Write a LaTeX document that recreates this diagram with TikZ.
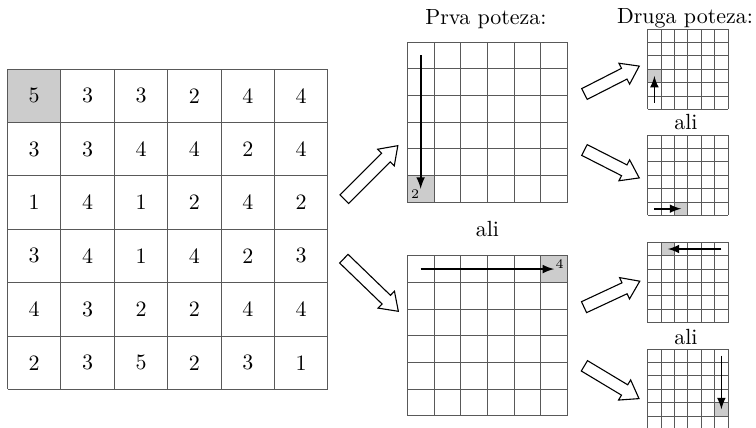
\documentclass[tikz,border=0pt]{standalone}
\usetikzlibrary{shapes.arrows}

\tikzset{
	gridline/.style={black!65, line width=0.45pt},
	taken/.style={fill=black!20},
	move/.style={->, thick},
	bigarrow/.style={draw, single arrow, fill=white, inner xsep=0pt, inner ysep=2.5pt,
		single arrow head extend=2.6pt, single arrow tip angle=70, line width=0.5pt},
	cellmark/.style={font=\fontsize{6}{7}\selectfont, inner sep=1.5pt},
}

\begin{document}
\begin{tikzpicture}[x=0.016cm, y=-0.016cm, >=latex]
		\useasboundingbox (0,0) rectangle (756,428);
		% shaded cells
		\fill[taken] (7.5,69) rectangle (60.9,122.4);
		\fill[taken] (407.3,175.5) rectangle (434,202.2);
		\fill[taken] (540.8,255.7) rectangle (567.5,282.4);
		\fill[taken] (647.7,69.2) rectangle (661.1,82.6);
		\fill[taken] (674.5,202) rectangle (687.9,215.4);
		\fill[taken] (661.1,242.3) rectangle (674.5,255.7);
		\fill[taken] (714.7,402.6) rectangle (728.1,416);
		% the boards
		\foreach \gx/\gy/\c in {7.5/69/53.4, 407.3/42/26.7, 407.3/255.7/26.7, 647.7/29/13.4, 647.7/135/13.4, 647.7/242.3/13.4, 647.7/349/13.4}
			\foreach \i in {0,...,6} {
				\draw[gridline] (\gx+\i*\c,\gy) -- (\gx+\i*\c,\gy+6*\c);
				\draw[gridline] (\gx,\gy+\i*\c) -- (\gx+6*\c,\gy+\i*\c);
			}
		% numbers on the big board
		\foreach \row [count=\r] in {{5,3,3,2,4,4},{3,3,4,4,2,4},{1,4,1,2,4,2},{3,4,1,4,2,3},{4,3,2,2,4,4},{2,3,5,2,3,1}}
			\foreach \v [count=\c] in \row
				\node (n\r\c) at (7.5+\c*53.4-26.7, 69+\r*53.4-26.7) {\v};
		% labels
		\node[anchor=base] (prva) at (486,24) {Prva poteza:};
		\node[anchor=base] (druga) at (685,23.5) {Druga poteza:};
		\node (ali1) at (487.5,229) {ali};
		\node (ali2) at (686,122) {ali};
		\node (ali3) at (686,336.5) {ali};
		\node[cellmark, anchor=south west] (d2) at (407.3,202.2) {2};
		\node[cellmark, anchor=north east] (d4) at (567.5,255.7) {4};
		% hollow arrows
		\node[bigarrow, minimum height=34.5pt, rotate=45] (upL) at (368,175.5) {};
		\node[bigarrow, minimum height=34.5pt, rotate=-44] (downL) at (368,282) {};
		\node[bigarrow, minimum height=28pt, rotate=27] (upA) at (608,82) {};
		\node[bigarrow, minimum height=28pt, rotate=-27] (downB) at (608,162) {};
		\node[bigarrow, minimum height=28pt, rotate=25] (upC) at (608,296) {};
		\node[bigarrow, minimum height=29pt, rotate=-31] (downD) at (608,380) {};
		% moves
		\coordinate (m1s) at (420.65,55.35);
		\coordinate (m1e) at (420.65,188.8);
		\coordinate (m2s) at (420.65,269.05);
		\coordinate (m2e) at (554.15,269.05);
		\coordinate (aS) at (654.4,102.7);
		\coordinate (aE) at (654.4,75.9);
		\coordinate (bS) at (654.4,208.7);
		\coordinate (bE) at (681.2,208.7);
		\coordinate (cS) at (721.4,249);
		\coordinate (cE) at (667.8,249);
		\coordinate (dS) at (721.4,355.7);
		\coordinate (dE) at (721.4,409.3);
		\draw[move] (m1s) -- (m1e);
		\draw[move] (m2s) -- (m2e);
		\draw[move] (aS) -- (aE);
		\draw[move] (bS) -- (bE);
		\draw[move] (cS) -- (cE);
		\draw[move] (dS) -- (dE);
	\end{tikzpicture}
\end{document}
